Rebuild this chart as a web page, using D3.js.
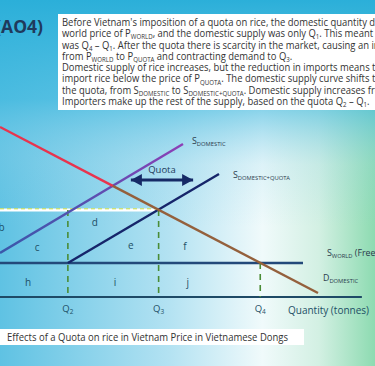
<!DOCTYPE html>
<html lang="en">
<head>
<meta charset="utf-8">
<style>
body { margin: 0; }
svg { display: block; font-family: "Open Sans", sans-serif; }
</style>
</head>
<body>
<div id="viz"></div>
<script src="https://cdn.jsdelivr.net/npm/d3@7/dist/d3.min.js"></script>
<script>

var w = 375, h = 366;

// quantity (0-100) and price (0-10), arbitrary units
var demand = [[0, 8.5], [84.8, 0.2]];
var supplyDomestic = [[0, 2.2], [48.8, 7.65]];
var supplyQuota = [[18.1, 1.7], [58.4, 6.15]];
var pWorld = 1.7, pQuota = 4.35;
var worldEnd = 80.8, axisEnd = 96.5;
var quantities = [
  {name: "2", q: 18.1, p: pQuota},
  {name: "3", q: 42.3, p: pQuota},
  {name: "4", q: 69.4, p: pWorld}
];
var areas = [
  {t: "b", q: 0.4, p: 3.45}, {t: "c", q: 9.9, p: 2.45}, {t: "d", q: 25.3, p: 3.7},
  {t: "e", q: 34.9, p: 2.55}, {t: "f", q: 49.3, p: 2.5},
  {t: "h", q: 7.5, p: 0.7}, {t: "i", q: 30.7, p: 0.7}, {t: "j", q: 50.1, p: 0.7}
];
var quotaArrow = [34.9, 51.5, 5.85];

var textLines = [
  "Before Vietnam's imposition of a quota on rice, the domestic quantity demanded",
  "world price of P_{WORLD}, and the domestic supply was only Q_{1}. This meant that",
  "was Q_{4} \u2013 Q_{1}. After the quota there is scarcity in the market, causing an increase",
  "from P_{WORLD} to P_{QUOTA} and contracting demand to Q_{3}.",
  "Domestic supply of rice increases, but the reduction in imports means that",
  "import rice below the price of P_{QUOTA}. The domestic supply curve shifts to",
  "the quota, from S_{DOMESTIC} to S_{DOMESTIC+QUOTA}. Domestic supply increases from",
  "Importers make up the rest of the supply, based on the quota Q_{2} \u2013 Q_{1}."
];
var caption = "Effects of a Quota on rice in Vietnam Price in Vietnamese Dongs";

var x = d3.scaleLinear().domain([0, 100]).range([0, 375]);
var y = d3.scaleLinear().domain([0, 10]).range([297, 97]);

var svg = d3.select("#viz").append("svg")
    .attr("width", w).attr("height", h);

var defs = svg.append("defs");
function grad(id, vertical, stops){
  var g = defs.append("linearGradient").attr("id", id)
    .attr("x1", 0).attr("y1", 0).attr("x2", vertical ? 0 : 1).attr("y2", vertical ? 1 : 0);
  stops.forEach(s => g.append("stop").attr("offset", s[0])
    .attr("stop-color", s[1]).attr("stop-opacity", s[2] == null ? 1 : s[2]));
}
grad("bgx", false, [[0, "#5fc2e3"], [0.45, "#b3e2f2"], [0.7, "#f0fafb"], [0.85, "#d3f0e3"], [1, "#8ddbb1"]]);
grad("bgy", true, [[0, "#2bafd9", 1], [0.27, "#42b9df", 0.72], [0.45, "#8fd2ea", 0.2], [0.62, "#8fd2ea", 0]]);
grad("sdom", false, [[0, "#3a58aa"], [0.5, "#5a4fb0"], [1, "#8d3fb6"]]);

svg.append("rect").attr("width", w).attr("height", h).attr("fill", "url(#bgx)");
svg.append("rect").attr("width", w).attr("height", h).attr("fill", "url(#bgy)");

// header
svg.append("text").attr("x", 43).attr("y", 33).attr("text-anchor", "end")
  .attr("font-size", 17.5).attr("font-weight", "bold").attr("fill", "#1f3a5c")
  .text("(AO4)");

svg.append("rect").attr("x", 58).attr("y", 14).attr("width", 330).attr("height", 96)
  .attr("fill", "#fff");

function rich(sel, str, size, subSize){
  var parts = str.split(/(_\{[^}]*\})/);
  var shifted = false;
  parts.forEach(function(p){
    if (!p) return;
    var t = sel.append("tspan");
    if (p.indexOf("_{") === 0) {
      t.text(p.slice(2, -1)).attr("font-size", subSize);
      if (!shifted) { t.attr("dy", size * 0.22); shifted = true; }
    } else {
      t.text(p);
      if (shifted) { t.attr("dy", -size * 0.22); shifted = false; }
    }
  });
}

var para = svg.append("g").attr("fill", "#333").attr("font-size", 10);
para.selectAll("text").data(textLines).join("text")
  .attr("x", 0).attr("y", (d, i) => 26 + i * 11.3)
  .each(function(d){ rich(d3.select(this), d, 10, 6.5); });
var lastLine = para.selectAll("text").nodes()[textLines.length - 1];
var k = 308 / lastLine.getComputedTextLength();
para.attr("transform", "translate(62,0) scale(" + k + ",1)");

// chart lines
var line = d3.line().x(d => x(d[0])).y(d => y(d[1]));

function cross(a, b){
  var sa = (a[1][1] - a[0][1]) / (a[1][0] - a[0][0]);
  var sb = (b[1][1] - b[0][1]) / (b[1][0] - b[0][0]);
  var ia = a[0][1] - sa * a[0][0], ib = b[0][1] - sb * b[0][0];
  var q = (ib - ia) / (sa - sb);
  return [q, ia + sa * q];
}
var brk = cross(demand, supplyDomestic);

// axis
svg.append("path").attr("d", line([[0, 0], [axisEnd, 0]]))
  .attr("stroke", "#1e4a66").attr("stroke-width", 2.2).attr("fill", "none");

// world price
svg.append("path").attr("d", line([[0, pWorld], [worldEnd, pWorld]]))
  .attr("stroke", "#23497a").attr("stroke-width", 2.4).attr("fill", "none");

// quota price
var q3 = quantities[1].q;
svg.append("path").attr("d", line([[0, pQuota], [q3, pQuota]]))
  .attr("stroke", "#fff").attr("stroke-width", 3.2).attr("fill", "none");
svg.append("path").attr("d", line([[0, pQuota + 0.06], [q3, pQuota + 0.06]]))
  .attr("stroke", "#c9dd45").attr("stroke-width", 1).attr("stroke-dasharray", "4,3")
  .attr("fill", "none");

// dashed verticals
svg.selectAll(".qline").data(quantities).join("path").attr("class", "qline")
  .attr("d", d => line([[d.q, d.p], [d.q, 0]]))
  .attr("stroke", "#4a8c36").attr("stroke-width", 1.6).attr("stroke-dasharray", "6,5")
  .attr("fill", "none");

// supply curves
svg.append("path").attr("d", line(supplyDomestic))
  .attr("stroke", "url(#sdom)").attr("stroke-width", 2.4).attr("fill", "none");
svg.append("path").attr("d", line(supplyQuota))
  .attr("stroke", "#16256a").attr("stroke-width", 2.4).attr("fill", "none");

// demand
svg.append("path").attr("d", line([demand[0], brk]))
  .attr("stroke", "#e8344e").attr("stroke-width", 2.4).attr("fill", "none");
svg.append("path").attr("d", line([brk, demand[1]]))
  .attr("stroke", "#94603c").attr("stroke-width", 2.4).attr("fill", "none");

// quota arrow
var ax0 = x(quotaArrow[0]), ax1 = x(quotaArrow[1]), ay = y(quotaArrow[2]);
svg.append("path").attr("d", line([[quotaArrow[0], quotaArrow[2]], [quotaArrow[1], quotaArrow[2]]]))
  .attr("stroke", "#162a66").attr("stroke-width", 3).attr("fill", "none");
svg.append("path")
  .attr("d", "M" + ax0 + "," + ay + "l11,-6v12z M" + ax1 + "," + ay + "l-11,-6v12z")
  .attr("fill", "#162a66");
svg.append("text").attr("x", (ax0 + ax1) / 2).attr("y", ay - 7)
  .attr("text-anchor", "middle").attr("font-size", 9.5).attr("fill", "#1d3a5a")
  .text("Quota");

// area letters
svg.selectAll(".area").data(areas).join("text").attr("class", "area")
  .attr("x", d => x(d.q)).attr("y", d => y(d.p))
  .attr("text-anchor", "middle").attr("dominant-baseline", "middle")
  .attr("font-size", 10).attr("fill", "#1d4f66")
  .text(d => d.t);

// quantity labels
svg.selectAll(".qlab").data(quantities).join("text").attr("class", "qlab")
  .attr("x", d => x(d.q)).attr("y", 312)
  .attr("text-anchor", "middle").attr("font-size", 9.5).attr("fill", "#1d4f66")
  .each(function(d){ rich(d3.select(this), "Q_{" + d.name + "}", 9.5, 6.5); });

svg.append("text").attr("x", 288).attr("y", 314)
  .attr("font-size", 10).attr("fill", "#1d4f66")
  .text("Quantity (tonnes)");

// curve names
var curveNames = [
  {s: "S_{DOMESTIC}", px: 192, py: 144},
  {s: "S_{DOMESTIC+QUOTA}", px: 233, py: 178},
  {s: "S_{WORLD} (Free trade)", px: 327, py: 256},
  {s: "D_{DOMESTIC}", px: 323, py: 281}
];
svg.selectAll(".cname").data(curveNames).join("text").attr("class", "cname")
  .attr("x", d => d.px).attr("y", d => d.py)
  .attr("font-size", 8.8).attr("fill", "#2a3a4c")
  .each(function(d){ rich(d3.select(this), d.s, 8.8, 5.8); });

// caption
svg.append("rect").attr("x", 0).attr("y", 329).attr("width", 304).attr("height", 16)
  .attr("fill", "#fff");
var cap = svg.append("text").attr("x", 7).attr("y", 341)
  .attr("font-size", 10).attr("fill", "#333").text(caption);
cap.attr("textLength", 281).attr("lengthAdjust", "spacingAndGlyphs");

</script>
</body>
</html>
